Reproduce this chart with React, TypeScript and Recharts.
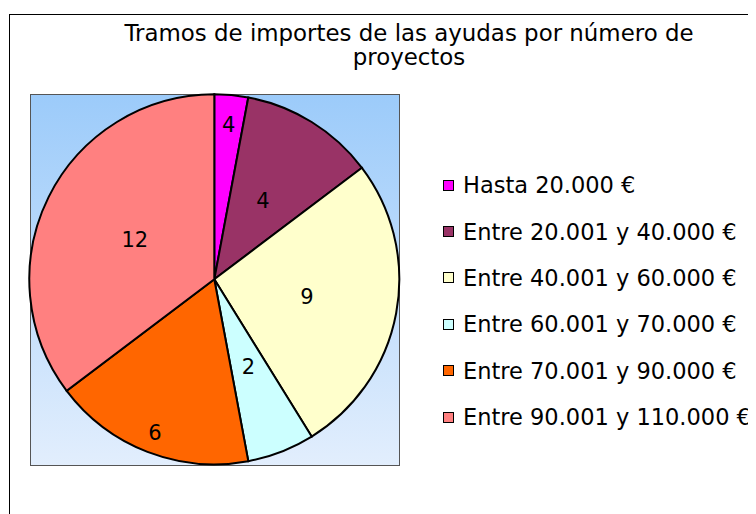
import React from 'react';
import { PieChart, Pie, Cell, Legend } from 'recharts';

const tramos = [
  'Hasta 20.000 €',
  'Entre 20.001 y 40.000 €',
  'Entre 40.001 y 60.000 €',
  'Entre 60.001 y 70.000 €',
  'Entre 70.001 y 90.000 €',
  'Entre 90.001 y 110.000 €',
];
// slice sizes as drawn
const proyectos = [1, 4, 9, 2, 6, 12];
// data labels as printed on the slices
const etiquetas = ['4', '4', '9', '2', '6', '12'];
const colores = ['#FF00FF', '#993366', '#FFFFCC', '#CCFFFF', '#FF6600', '#FF8080'];
const titulo = ['Tramos de importes de las ayudas por número de', 'proyectos'];

// style: radial position of each data label (fraction of radius)
const labelRadius = [0.84, 0.5, 0.51, 0.51, 0.89, 0.48];

const FONT = "'DejaVu Sans', Verdana, sans-serif";

const data = tramos.map((name, i) => ({ name, value: proyectos[i], fill: colores[i] }));

const RAD = Math.PI / 180;

const renderLabel = (props: any) => {
  const { cx, cy, midAngle, outerRadius, index } = props;
  const r = outerRadius * labelRadius[index];
  const x = cx + r * Math.cos(-midAngle * RAD);
  const y = cy + r * Math.sin(-midAngle * RAD);
  return (
    <text
      x={x}
      y={y}
      textAnchor="middle"
      dominantBaseline="central"
      fontFamily={FONT}
      fontSize={21}
      fill="#000"
    >
      {etiquetas[index]}
    </text>
  );
};

const renderLegend = () => {
  return (
    <div style={{ fontFamily: FONT, fontSize: 22.5, color: '#000' }}>
      {tramos.map((name, i) => (
        <div key={name} style={{ display: 'flex', alignItems: 'center', height: 46.4, whiteSpace: 'nowrap' }}>
          <span
            style={{
              display: 'inline-block',
              boxSizing: 'border-box',
              width: 11,
              height: 11,
              border: '1px solid #000',
              background: colores[i],
              marginRight: 9,
              flex: '0 0 auto',
            }}
          />
          <span>{name}</span>
        </div>
      ))}
    </div>
  );
};

export default function App() {
  return (
    <div style={{ position: 'relative', width: 748, height: 506, overflow: 'hidden', background: '#fff' }}>
      <div
        style={{
          position: 'absolute',
          left: 1,
          top: 6,
          width: 760,
          height: 520,
          borderTop: '1px solid #000',
          borderLeft: '1px solid #000',
        }}
      />
      <div
        style={{
          position: 'absolute',
          left: 101,
          top: 12.8,
          width: 600,
          textAlign: 'center',
          fontFamily: FONT,
          fontSize: 22.9,
          lineHeight: '24px',
          color: '#000',
        }}
      >
        {titulo[0]}
        <br />
        {titulo[1]}
      </div>
      <div
        style={{
          position: 'absolute',
          left: 21.5,
          top: 86,
          width: 370.5,
          height: 372,
          boxSizing: 'border-box',
          border: '1px solid #555',
          background: 'linear-gradient(#9CCBFA, #E2EEFD)',
        }}
      />
      <div style={{ position: 'absolute', left: 0, top: 0 }}>
        <PieChart width={748} height={506} margin={{ top: 0, right: 0, bottom: 0, left: 0 }}>
          <Pie
            data={data}
            dataKey="value"
            nameKey="name"
            cx={206.3}
            cy={271.3}
            outerRadius={185}
            startAngle={90}
            endAngle={-270}
            stroke="#000"
            strokeWidth={2}
            label={renderLabel}
            labelLine={false}
            isAnimationActive={false}
          >
            {data.map((d, i) => (
              <Cell key={d.name} fill={colores[i]} stroke="#000" strokeWidth={2} />
            ))}
          </Pie>
          <Legend
            layout="vertical"
            align="right"
            verticalAlign="top"
            content={renderLegend}
            wrapperStyle={{ left: 435, top: 154, right: 'auto', width: 320 }}
          />
        </PieChart>
      </div>
    </div>
  );
}
